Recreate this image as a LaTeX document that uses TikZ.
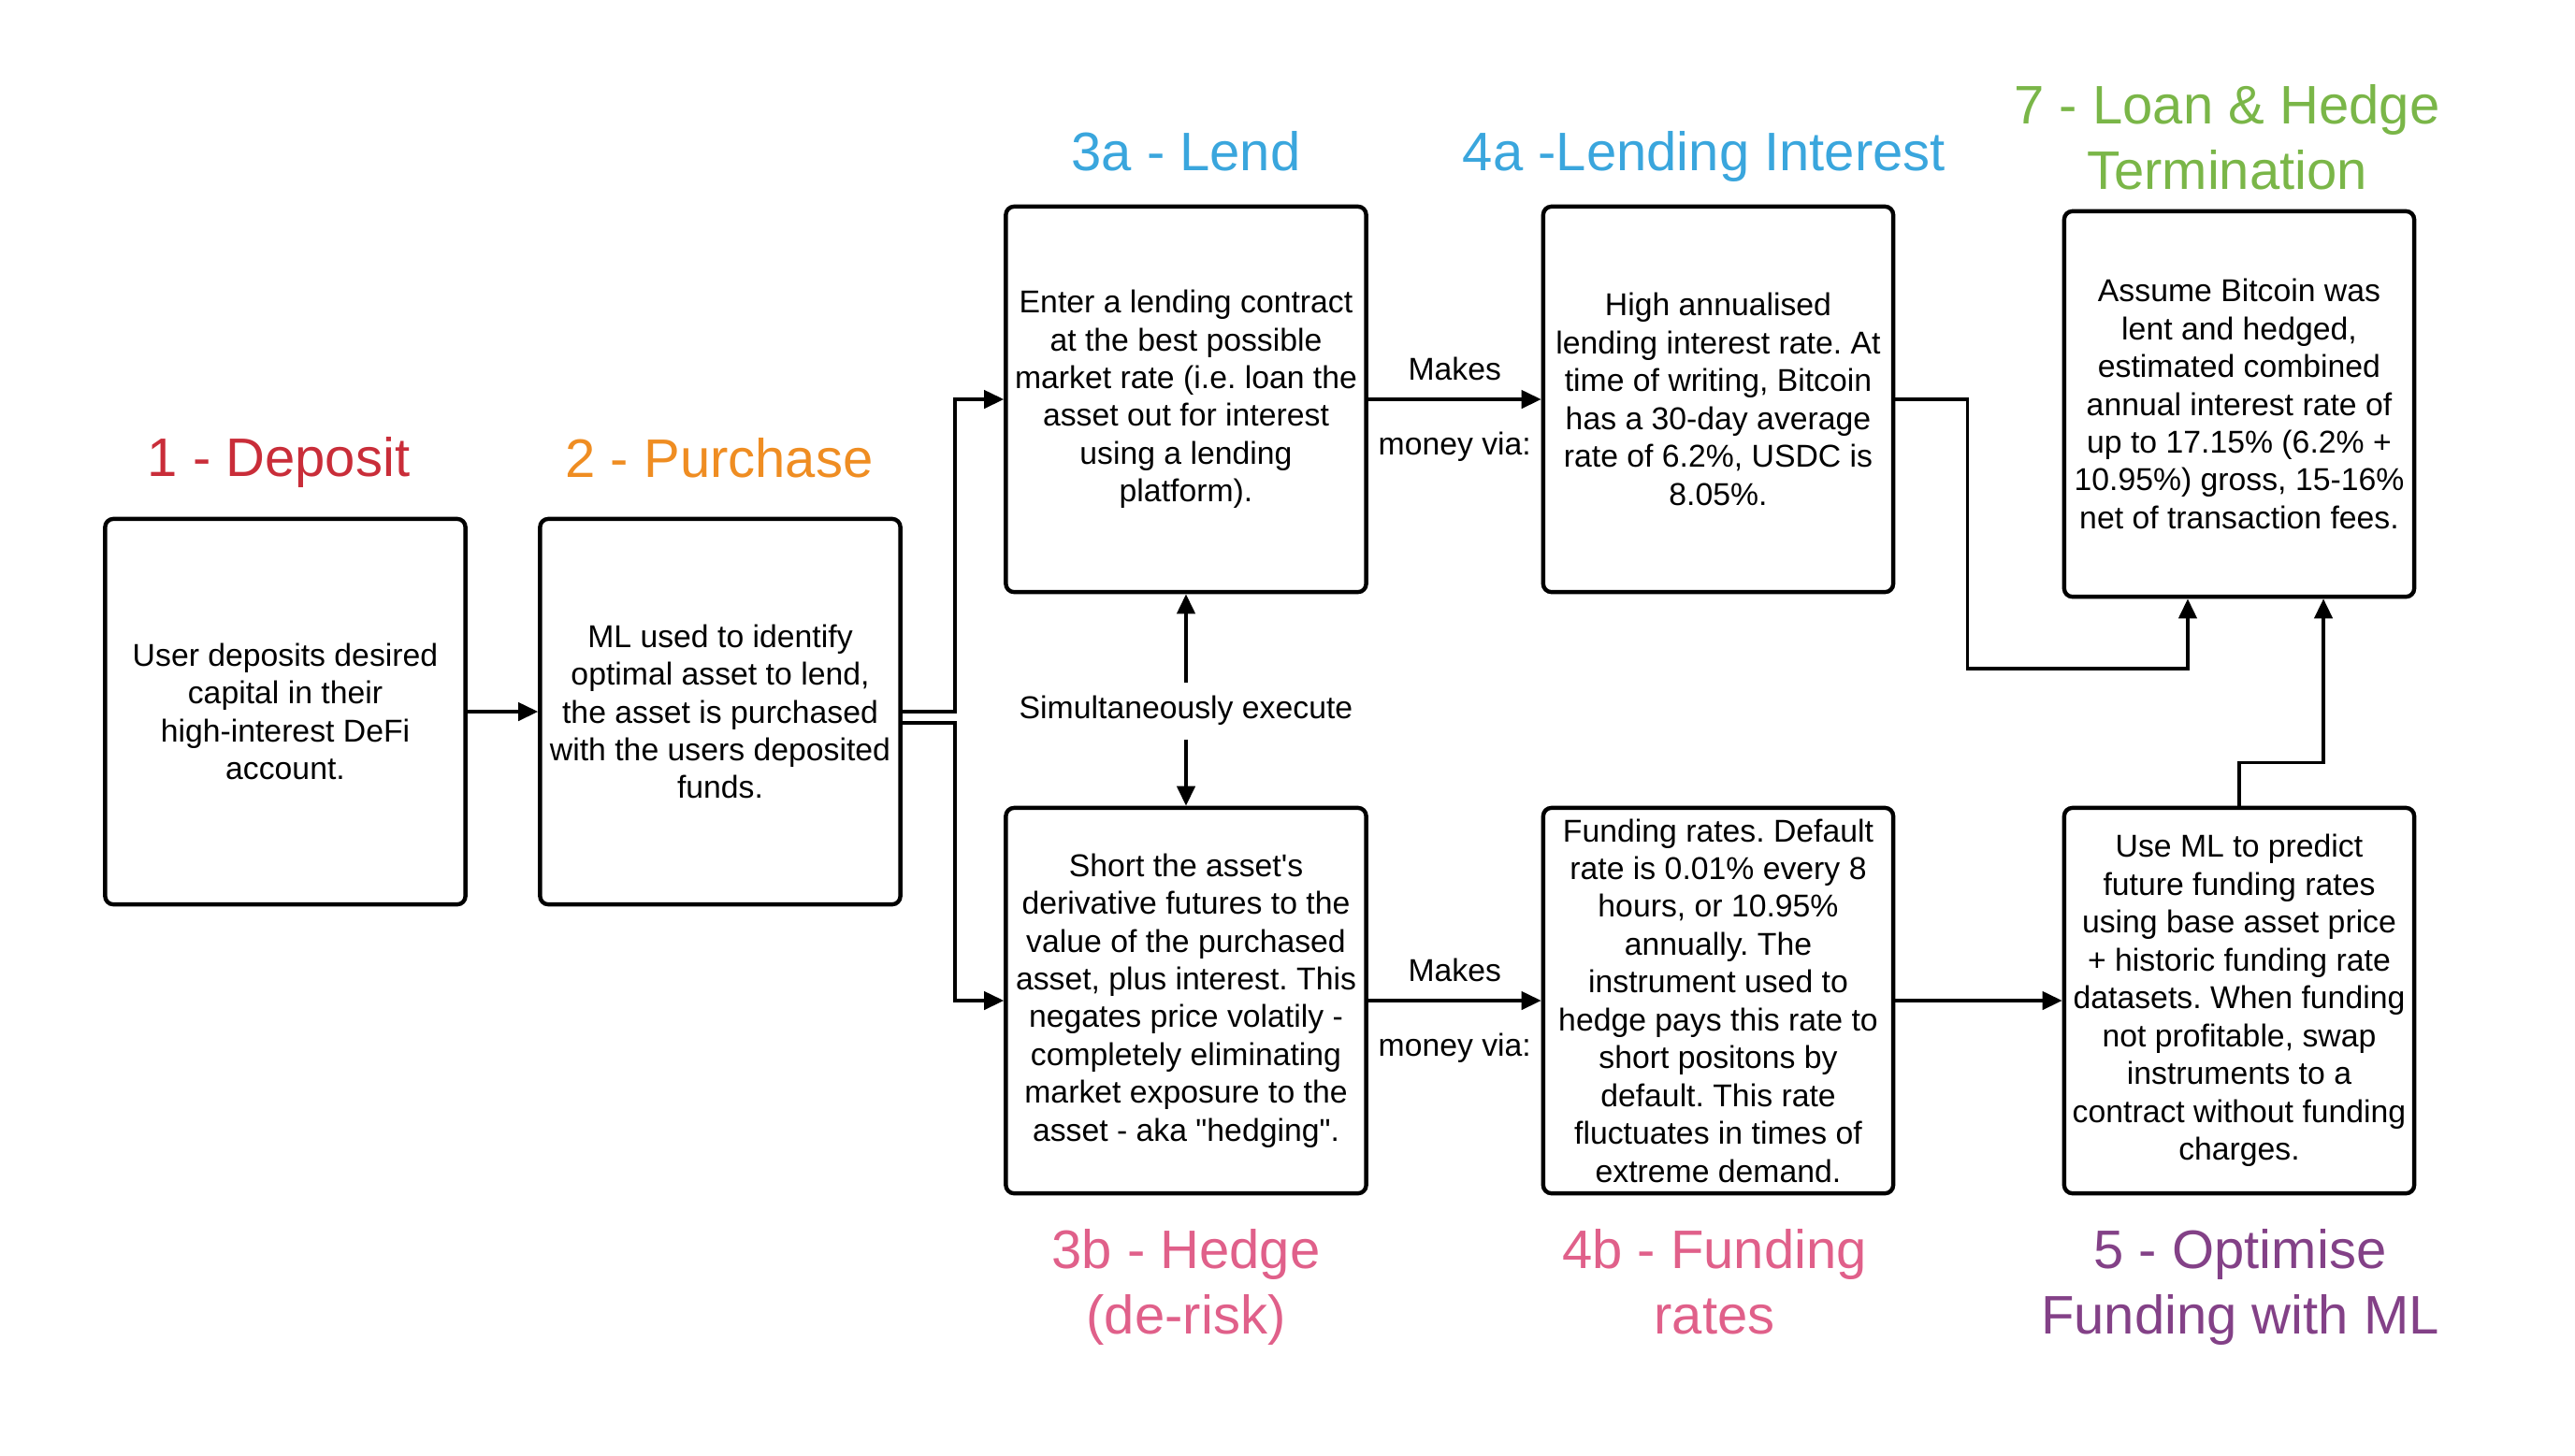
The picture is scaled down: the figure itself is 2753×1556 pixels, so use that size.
\documentclass[tikz,border=0pt]{standalone}
\usepackage{fontspec}
\usepackage{xcolor}
\usepackage{tikz}
\usetikzlibrary{arrows.meta}
\newfontfamily\diagfont{Liberation Sans}
\frenchspacing
\definecolor{DefiInk}{HTML}{000000}
\definecolor{DefiRed}{HTML}{C92D39}
\definecolor{DefiOrange}{HTML}{EF8D22}
\definecolor{DefiBlue}{HTML}{3AA6DD}
\definecolor{DefiPink}{HTML}{E0608A}
\definecolor{DefiGreen}{HTML}{7AB648}
\definecolor{DefiPurple}{HTML}{834187}
\begin{document}
\begin{tikzpicture}[x=0.01cm,y=-0.01cm,
    stagebox/.style={draw=DefiInk, line width=1.25pt, rounded corners=2.5pt, align=center, text=DefiInk, inner sep=1pt, minimum height=4.12cm, font=\diagfont\fontsize{9.6pt}{11.5pt}\selectfont\frenchspacing},
    widebox/.style={stagebox, minimum width=3.85cm},
    narrowbox/.style={stagebox, minimum width=3.74cm},
    stagetitle/.style={align=center, inner sep=0pt, font=\diagfont\fontsize{16.5pt}{19.9pt}\selectfont},
    flowlabel/.style={text=DefiInk, font=\diagfont\fontsize{9.6pt}{11.5pt}\selectfont},
    flow/.style={draw=DefiInk, line width=1pt, -{Triangle[length=6pt,width=5.5pt]}}]
  \useasboundingbox (0,0) rectangle (2753,1556);
  \node[widebox] (deposit) at (305,761) {User deposits desired\\capital in their\\high-interest DeFi\\account.};
  \node[widebox] (purchase) at (770,761) {ML used to identify\\optimal asset to lend,\\the asset is purchased\\with the users deposited\\funds.};
  \node[widebox] (lend) at (1268,427) {Enter a lending contract\\at the best possible\\market rate (i.e. loan the\\asset out for interest\\using a lending\\platform).};
  \node[narrowbox] (lendint) at (1837,427) {High annualised\\lending interest rate. At\\time of writing, Bitcoin\\has a 30-day average\\rate of 6.2\%, USDC is\\8.05\%.};
  \node[narrowbox] (term) at (2394,432) {Assume Bitcoin was\\lent and hedged,\\estimated combined\\annual interest rate of\\up to 17.15\% (6.2\% +\\10.95\%) gross, 15-16\%\\net of transaction fees.};
  \node[widebox] (hedge) at (1268,1070) {Short the asset's\\derivative futures to the\\value of the purchased\\asset, plus interest. This\\negates price volatily -\\completely eliminating\\market exposure to the\\asset - aka "hedging".};
  \node[narrowbox] (funding) at (1837,1070) {Funding rates. Default\\rate is 0.01\% every 8\\hours, or 10.95\%\\annually. The\\instrument used to\\hedge pays this rate to\\short positons by\\default. This rate\\fluctuates in times of\\extreme demand.};
  \node[narrowbox] (optim) at (2394,1070) {Use ML to predict\\future funding rates\\using base asset price\\+ historic funding rate\\datasets. When funding\\not profitable, swap\\instruments to a\\contract without funding\\charges.};
  \node[stagetitle, text=DefiRed] (deposittitle) at (298,494) {1 - Deposit};
  \node[stagetitle, text=DefiOrange] (purchasetitle) at (769,490) {2 - Purchase};
  \node[stagetitle, text=DefiBlue] (lendtitle) at (1268,162) {3a - Lend};
  \node[stagetitle, text=DefiBlue] (lendinttitle) at (1822,167) {4a -Lending Interest};
  \node[stagetitle, text=DefiGreen] (termtitle) at (2381,147) {7 - Loan \& Hedge\\Termination};
  \node[stagetitle, text=DefiPink] (hedgetitle) at (1268,1376) {3b - Hedge\\(de-risk)};
  \node[stagetitle, text=DefiPink] (fundingtitle) at (1833,1371) {4b - Funding\\rates};
  \node[stagetitle, text=DefiPurple] (optimtitle) at (2395,1376) {5 - Optimise\\Funding with ML};
  \node[flowlabel, inner sep=4pt] (simul) at (1268,760) {Simultaneously execute};
  \draw[flow] (deposit) -- (purchase);
  \draw[flow] (purchase.east) -- ++(56,0) |- (lend.west);
  \draw[flow] ([yshift=-3.4pt]purchase.east) -- ++(56,0) |- (hedge.west);
  \draw[flow] (simul) -- (lend);
  \draw[flow] (simul) -- (hedge);
  \draw[flow] (lend) -- node[flowlabel, above=2pt] (lendmakes) {Makes} node[flowlabel, below=6pt] (lendvia) {money via:} (lendint);
  \draw[flow] (hedge) -- node[flowlabel, above=2pt] (hedgemakes) {Makes} node[flowlabel, below=6pt] (hedgevia) {money via:} (funding);
  \draw[flow] (funding) -- (optim);
  \draw[flow] (lendint.east) -- ++(77,0) -- ++(0,288) -| ([xshift=-0.55cm]term.south);
  \draw[flow] (optim.north) -- ++(0,-46) -| ([xshift=0.9cm]term.south);
\end{tikzpicture}
\end{document}
